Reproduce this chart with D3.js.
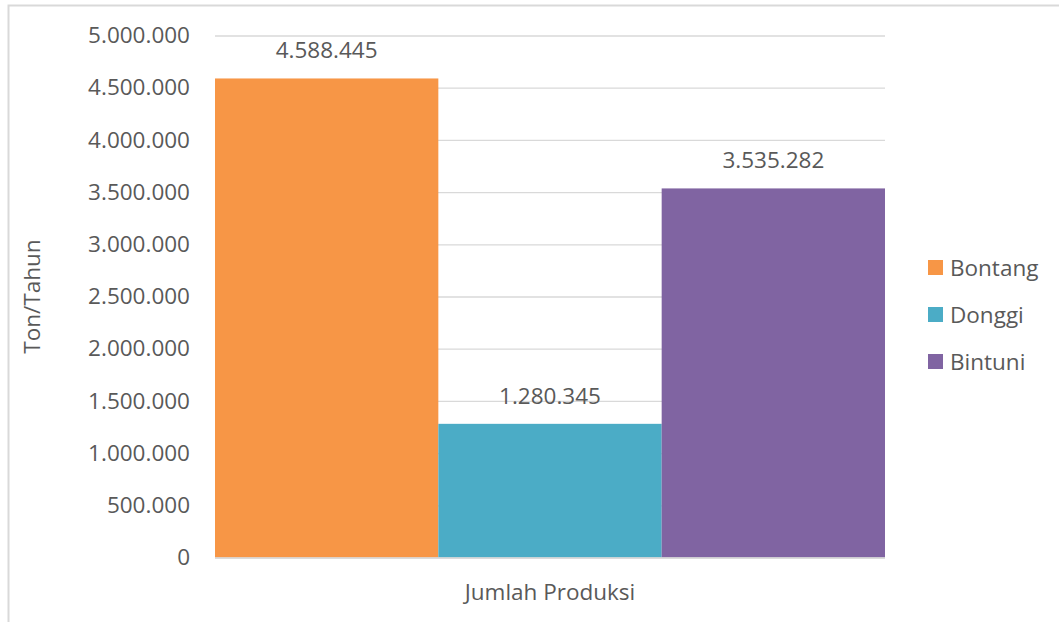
<!DOCTYPE html>
<html>
<head>
<meta charset="utf-8">
<script src="https://cdn.jsdelivr.net/npm/d3@7"></script>
<style>
  html, body { margin: 0; padding: 0; background: #fff; }
  svg { display: block; }
  text { font-family: "Open Sans", "Noto Sans", sans-serif; fill: #595959; }
</style>
</head>
<body>
<svg id="chart" width="1059" height="622"></svg>
<script>
// Produksi per kilang (ton/tahun)
const categories = ["Jumlah Produksi"];
const seriesNames = ["Bontang", "Donggi", "Bintuni"];
const seriesValues = [4588445, 1280345, 3535282];
const seriesColors = ["#F79646", "#4BACC6", "#8064A2"];
const yTicks = [0, 500000, 1000000, 1500000, 2000000, 2500000, 3000000, 3500000, 4000000, 4500000, 5000000];

const svg = d3.select("#chart");
const W = 1059, H = 622;
const FS = 22.5;
const plot = { left: 215, right: 885, top: 35.5, bottom: 557.5 };

// chart frame
svg.append("rect")
  .attr("x", 8.5).attr("y", 5.5)
  .attr("width", W + 10).attr("height", H + 10)
  .attr("fill", "none").attr("stroke", "#d9d9d9").attr("stroke-width", 2);

const fmt = v => d3.format(",")(v).replace(/,/g, ".");

const y = d3.scaleLinear().domain([0, 5000000]).range([plot.bottom, plot.top]);
const x0 = d3.scaleBand().domain(categories).range([plot.left, plot.right]).padding(0);
const x1 = d3.scaleBand().domain(seriesNames).range([0, x0.bandwidth()]).padding(0);
const color = d3.scaleOrdinal().domain(seriesNames).range(seriesColors);

// gridlines + y tick labels
const yAxis = d3.axisLeft(y).tickValues(yTicks).tickFormat(fmt)
  .tickSize(-(plot.right - plot.left)).tickPadding(25);
const gy = svg.append("g").attr("transform", `translate(${plot.left},0)`).call(yAxis);
gy.select(".domain").remove();
gy.selectAll(".tick line").attr("stroke", "#d9d9d9").attr("stroke-width", 1.3);
gy.selectAll(".tick text").attr("font-size", FS).style("fill", "#595959")
  .attr("font-family", "'Open Sans', sans-serif");

// bars
const gBars = svg.append("g");
categories.forEach(cat => {
  seriesNames.forEach((name, i) => {
    const v = seriesValues[i];
    const bx = x0(cat) + x1(name);
    gBars.append("rect")
      .attr("x", bx).attr("y", y(v))
      .attr("width", x1.bandwidth()).attr("height", y(0) - y(v))
      .attr("fill", color(name));
    gBars.append("text")
      .attr("x", bx + x1.bandwidth() / 2).attr("y", y(v) - 20)
      .attr("text-anchor", "middle").attr("font-size", FS)
      .text(fmt(v));
  });
});

// baseline
svg.append("line")
  .attr("x1", plot.left).attr("x2", plot.right)
  .attr("y1", y(0) + 0.5).attr("y2", y(0) + 0.5)
  .attr("stroke", "#d9d9d9").attr("stroke-width", 1.5);

// category label
svg.append("text")
  .attr("x", x0(categories[0]) + x0.bandwidth() / 2).attr("y", 600)
  .attr("text-anchor", "middle").attr("font-size", FS)
  .text(categories[0]);

// y axis title
svg.append("text")
  .attr("transform", `translate(40,${(plot.top + plot.bottom) / 2}) rotate(-90)`)
  .attr("text-anchor", "middle").attr("font-size", FS)
  .text("Ton/Tahun");

// legend
const lg = svg.append("g").attr("transform", "translate(928,260)");
seriesNames.forEach((name, i) => {
  const row = lg.append("g").attr("transform", `translate(0,${i * 47})`);
  row.append("rect").attr("width", 15).attr("height", 15).attr("fill", color(name));
  row.append("text").attr("x", 22).attr("y", 16).attr("font-size", FS).text(name);
});
</script>
</body>
</html>
